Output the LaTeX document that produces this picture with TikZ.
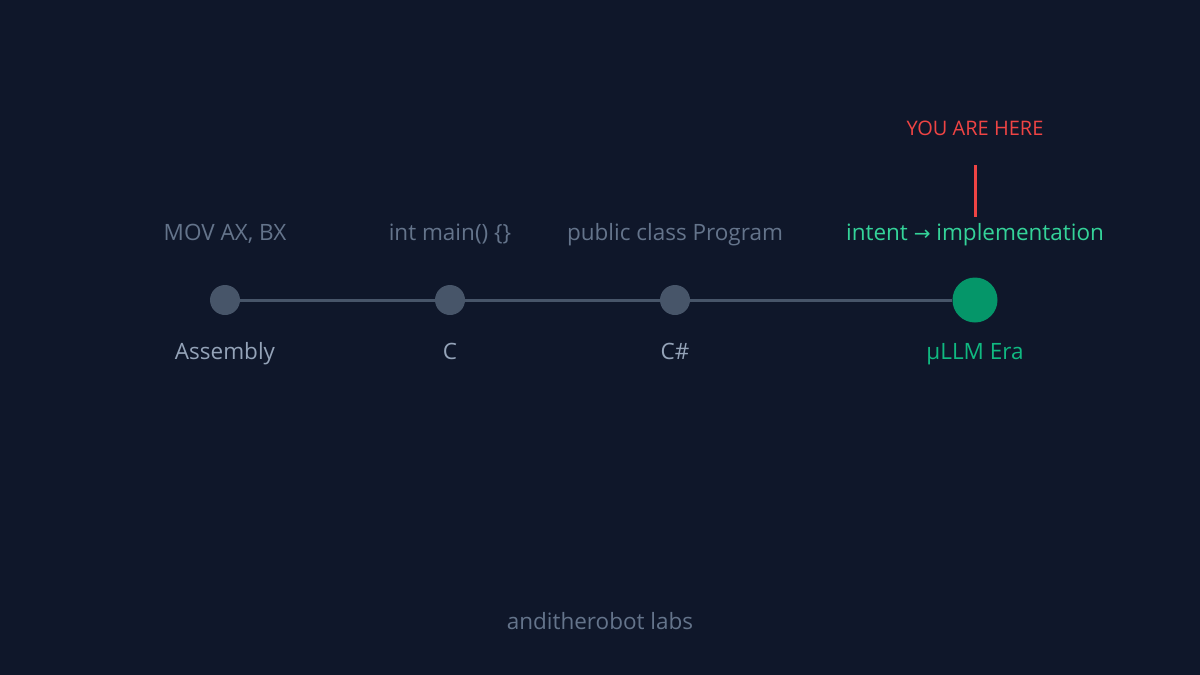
\documentclass[tikz,border=0pt]{standalone}
\usepackage{fontspec}
\setmainfont{Open Sans}
\newfontfamily\symfont{DejaVu Sans}
\definecolor{bg}{HTML}{0F172A}
\definecolor{dotgray}{HTML}{475569}
\definecolor{toptxt}{HTML}{64748B}
\definecolor{bottxt}{HTML}{94A3B8}
\definecolor{emer}{HTML}{059669}
\definecolor{emertxt}{HTML}{10B981}
\definecolor{intenttxt}{HTML}{34D399}
\definecolor{redc}{HTML}{EF4444}
\begin{document}
\begin{tikzpicture}[x=1pt,y=-1pt,
  dot/.style={circle,fill=dotgray,inner sep=0pt,minimum size=30pt},
  bigdot/.style={circle,fill=emer,inner sep=0pt,minimum size=45pt},
  codelbl/.style={text=toptxt,font=\fontsize{22.5}{26}\selectfont,inner sep=0pt,anchor=base},
  eralbl/.style={text=bottxt,font=\fontsize{22.5}{26}\selectfont,inner sep=0pt,anchor=base},
  link/.style={draw=dotgray,line width=3pt}]
\fill[bg] (0,0) rectangle (1200,675);
\useasboundingbox (0,0) rectangle (1200,675);
\node[dot] (asm) at (225,300) {};
\node[dot] (c) at (450,300) {};
\node[dot] (cs) at (675,300) {};
\node[bigdot] (llm) at (975,300) {};
\draw[link] (asm) -- (c);
\draw[link] (c) -- (cs);
\draw[link] (cs) -- (llm);
\node[codelbl] (t1) at (225,240) {MOV AX, BX};
\node[codelbl] (t2) at (450,240) {int main() \{\}};
\node[codelbl] (t3) at (675,240) {public class Program};
\node[codelbl,text=intenttxt] (t4) at (975,240) {intent {\symfont\fontsize{20}{22}\selectfont →} implementation};
\node[eralbl] (b1) at (225,359) {Assembly};
\node[eralbl] (b2) at (450,359) {C};
\node[eralbl] (b3) at (675,359) {C\#};
\node[eralbl,text=emertxt] (b4) at (975,359) {µLLM Era};
\node[text=redc,font=\fontsize{20}{24}\selectfont,inner sep=0pt,anchor=base] (here) at (975,135) {YOU ARE HERE};
\coordinate (ptop) at (975,165);
\coordinate (pbot) at (975,217);
\draw[redc,line width=3pt] (ptop) -- (pbot);
\node[text=toptxt,font=\fontsize{22.5}{26}\selectfont,inner sep=0pt,anchor=base] (foot) at (600,629) {anditherobot labs};
\end{tikzpicture}
\end{document}
